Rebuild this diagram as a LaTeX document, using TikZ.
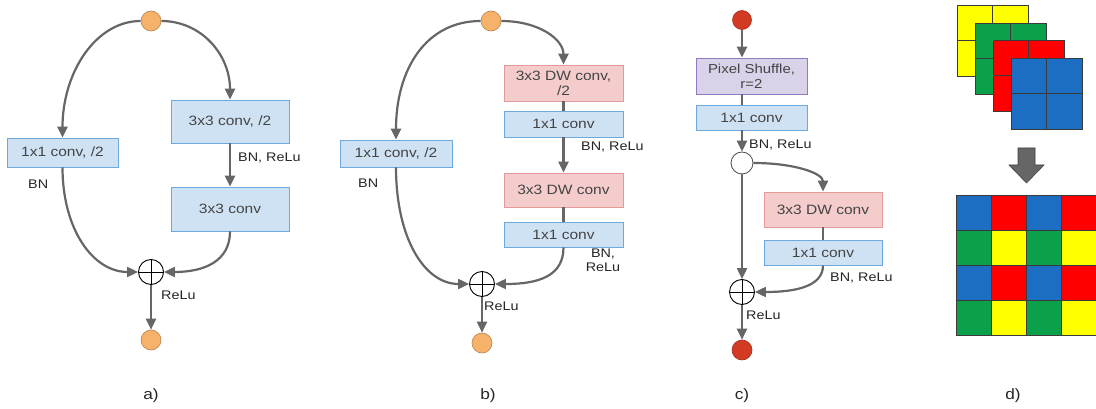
\documentclass[tikz,border=0pt]{standalone}
\usepackage{fontspec}
\setmainfont{Liberation Sans}[FakeStretch=1.15]
\usetikzlibrary{arrows.meta,calc}
\definecolor{lineg}{HTML}{666666}
\definecolor{bluef}{HTML}{CFE2F3}
\definecolor{bluel}{HTML}{6FA8DC}
\definecolor{pinkf}{HTML}{F4CCCC}
\definecolor{pinkl}{HTML}{E59A9A}
\definecolor{purpf}{HTML}{D9D2E9}
\definecolor{purpl}{HTML}{8E7CC3}
\definecolor{orgf}{HTML}{F6B26B}
\definecolor{orgl}{HTML}{B7834A}
\definecolor{redf}{HTML}{D33A23}
\definecolor{redl}{HTML}{A5301E}
\definecolor{txtg}{HTML}{444444}
\definecolor{cY}{HTML}{FFFF00}
\definecolor{cG}{HTML}{0BA14B}
\definecolor{cR}{HTML}{FF0000}
\definecolor{cB}{HTML}{1B6EC2}
\definecolor{gridl}{HTML}{3A3A3A}
\definecolor{barrow}{HTML}{666666}
\tikzset{
  conn/.style={draw=lineg, line width=2.2pt, -{Triangle[length=11pt,width=10pt]}},
  plain/.style={draw=lineg, line width=2.2pt},
  bbox/.style={draw=bluel, fill=bluef, line width=0.8pt, text=txtg, font=\fontsize{13.5}{15}\selectfont, align=center, inner sep=0pt},
  pbox/.style={draw=pinkl, fill=pinkf, line width=0.8pt, text=txtg, font=\fontsize{13.5}{15}\selectfont, align=center, inner sep=0pt},
  ubox/.style={draw=purpl, fill=purpf, line width=0.8pt, text=txtg, font=\fontsize{13}{15}\selectfont, align=center, inner sep=0pt},
  onode/.style={circle, draw=orgl, fill=orgf, line width=0.6pt, minimum size=20pt, inner sep=0pt},
  rnode/.style={circle, draw=redl, fill=redf, line width=0.6pt, minimum size=19pt, inner sep=0pt},
  wnode/.style={circle, draw=black!70, fill=white, line width=0.8pt, minimum size=22pt, inner sep=0pt},
  plusn/.style={circle, draw=black, fill=white, line width=0.9pt, minimum size=25pt, inner sep=0pt,
    path picture={\draw[black, line width=0.9pt] (path picture bounding box.north) -- (path picture bounding box.south)
      (path picture bounding box.west) -- (path picture bounding box.east);}},
  lbl/.style={text=black!85, font=\fontsize{12.5}{14}\selectfont, inner sep=0pt, align=center},
  sub/.style={text=black!85, font=\fontsize{15}{17}\selectfont, inner sep=0pt},
  cellb/.style={draw=gridl, line width=0.6pt}
}
\begin{document}
\begin{tikzpicture}[x=1pt,y=-1pt]
\useasboundingbox (0,0) rectangle (1096,409);
\fill[white] (0,0) rectangle (1096,409);

% ---------- a) ----------
\node[onode] (ta) at (151,21) {};
\node[bbox, minimum width=111pt, minimum height=29pt] (aL) at (62.5,152.5) {1x1 conv, /2};
\node[bbox, minimum width=118pt, minimum height=43pt] (aR1) at (230,121.5) {3x3 conv, /2};
\node[bbox, minimum width=118pt, minimum height=44pt] (aR2) at (230,209) {3x3 conv};
\node[plusn] (pa) at (151,272) {};
\node[onode] (ba) at (151,340) {};
\node[lbl, anchor=west] (aBN) at (28,184) {BN};
\node[lbl, anchor=west] (aBNR) at (238,158) {BN, ReLu};
\node[lbl, anchor=west] (aRe) at (161,295) {ReLu};
\node[sub] (la) at (151,396) {a)};
\draw[conn] (ta.west) .. controls +(-45,0) and +(0,-65) .. (aL.north);
\draw[conn] (ta.east) .. controls +(40,0) and +(0,-45) .. (aR1.north);
\draw[conn] (aR1.south) -- (aR2.north);
\draw[conn] (aL.south) .. controls +(0,62) and +(-45,0) .. (pa.west);
\draw[conn] (aR2.south) .. controls +(0,30) and +(40,0) .. (pa.east);
\draw[conn] (pa.south) -- (ba.north);

% ---------- b) ----------
\node[onode] (tb) at (491,21) {};
\node[pbox, minimum width=119pt, minimum height=36pt] (bP1) at (563.5,83) {3x3 DW conv,\\/2};
\node[bbox, minimum width=119pt, minimum height=26pt] (bB1) at (563.5,124) {1x1 conv};
\node[pbox, minimum width=119pt, minimum height=34pt] (bP2) at (563.5,190) {3x3 DW conv};
\node[bbox, minimum width=119pt, minimum height=25pt] (bB2) at (563.5,234.5) {1x1 conv};
\node[bbox, minimum width=112pt, minimum height=27pt] (bL) at (396,153.5) {1x1 conv, /2};
\node[plusn] (pb) at (482,284) {};
\node[onode] (bb) at (482,343) {};
\node[lbl, anchor=west] (bBN) at (358,183) {BN};
\node[lbl, anchor=west] (bBNR) at (581,147) {BN, ReLu};
\node[lbl] (bBNR2) at (603,260) {BN,\\ReLu};
\node[lbl, anchor=west] (bRe) at (484,306) {ReLu};
\node[sub] (lb) at (488,396) {b)};
\draw[conn] (tb.west) .. controls +(-55,0) and +(0,-70) .. (bL.north);
\draw[conn] (tb.east) .. controls +(38,0) and +(0,-25) .. (bP1.north);
\draw[plain] (bP1.south) -- (bB1.north);
\draw[conn] (bB1.south) -- (bP2.north);
\draw[plain] (bP2.south) -- (bB2.north);
\draw[conn] (bL.south) .. controls +(0,70) and +(-45,0) .. (pb.west);
\draw[conn] (bB2.south) .. controls +(0,28) and +(45,0) .. (pb.east);
\draw[conn] (pb.south) -- (bb.north);

% ---------- c) ----------
\node[rnode] (tc) at (742,20) {};
\node[ubox, minimum width=111pt, minimum height=36pt] (cP) at (751.5,76) {Pixel Shuffle,\\r=2};
\node[bbox, minimum width=111pt, minimum height=25pt] (cB1) at (751.5,117.5) {1x1 conv};
\node[wnode] (wc) at (742,163) {};
\node[pbox, minimum width=118pt, minimum height=35pt] (cD) at (823,209.5) {3x3 DW conv};
\node[bbox, minimum width=118pt, minimum height=25pt] (cE) at (823,252.5) {1x1 conv};
\node[plusn] (pc) at (742,292) {};
\node[rnode, minimum size=20pt] (bc) at (742,350) {};
\node[lbl, anchor=west] (cBNR) at (749,145) {BN, ReLu};
\node[lbl, anchor=west] (cBNR2) at (830,278) {BN, ReLu};
\node[lbl, anchor=west] (cRe) at (746,315) {ReLu};
\node[sub] (lc) at (742,396) {c)};
\draw[conn] (tc.south) -- (tc |- cP.north);
\draw[plain] (tc |- cP.south) -- (tc |- cB1.north);
\draw[conn] (tc |- cB1.south) -- (wc.north);
\draw[conn] (wc.east) .. controls +(42,0) and +(0,-18) .. (cD.north);
\draw[plain] (cD.south) -- (cE.north);
\draw[conn] (wc.south) -- (pc.north);
\draw[conn] (cE.south) .. controls +(0,22) and +(38,0) .. (pc.east);
\draw[conn] (pc.south) -- (bc.north);

% ---------- d) ----------
\foreach \ox/\oy/\cc in {957/5/cY, 975/23/cG, 993/40/cR, 1011/58/cB}{
  \filldraw[fill=\cc, cellb] (\ox,\oy) rectangle +(71,71);
  \draw[cellb] (\ox+35.5,\oy) -- +(0,71) (\ox,\oy+35.5) -- +(71,0);
}
\draw[fill=barrow, draw=black!75, line width=0.6pt]
  (1018,148) -- (1035,148) -- (1035,165) -- (1044,165) -- (1026.5,183) -- (1009,165) -- (1018,165) -- cycle;
\foreach \r/\ca/\cb in {0/cB/cR, 1/cG/cY, 2/cB/cR, 3/cG/cY}{
  \foreach \c in {0,2}{
    \filldraw[fill=\ca, cellb] (956+35*\c,195+35*\r) rectangle +(35,35);
    \filldraw[fill=\cb, cellb] (991+35*\c,195+35*\r) rectangle +(35,35);
  }
}
\node[sub] (ld) at (1013,396) {d)};
\end{tikzpicture}
\end{document}
